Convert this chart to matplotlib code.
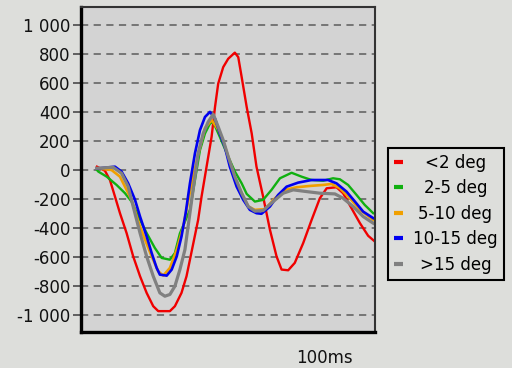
import matplotlib
matplotlib.use("Agg")
import matplotlib.pyplot as plt
from matplotlib.ticker import FuncFormatter

FIG_BG = "#dddedb"
PLOT_BG = "#d3d3d3"

labels = ["<2 deg", "2-5 deg", "5-10 deg", "10-15 deg", ">15 deg"]
colors = ["#f00000", "#10b010", "#f0a000", "#0000f0", "#808080"]

# time (ms) and amplitude for each eccentricity band
t_red = [0, 3.5, 5.7, 7.9, 10.1, 13.0, 15.9, 18.9, 21.8, 24.7, 26.9, 32.0, 34.2,
         37.1, 39.3, 40.8, 44.4, 45.9, 48.1, 50.3, 51.8, 53.2, 55.4, 57.6, 60.5,
         62.0, 63.5, 65.7, 67.9, 70.0, 72.9, 75.9, 78.8, 81.0, 83.9, 86.8, 90.5,
         94.2, 97.8, 100.8, 105.1, 108.0, 111.7, 115.4, 119.0, 121.9]
v_red = [23, -5, -69, -183, -298, -435, -596, -733, -848, -940, -974, -974, -940,
         -848, -733, -619, -344, -183, 23, 229, 435, 596, 710, 768, 810,
         779, 641, 435, 252, 23, -183, -412, -596, -687, -692, -641, -504,
         -344, -195, -126, -119, -160, -264, -367, -454, -493]

t_green = [0, 0.6, 4.3, 8.6, 12.3, 15.2, 18.9, 21.8, 25.4, 28.4, 32.0, 34.2, 36.4,
           40.8, 43.0, 45.2, 47.4, 49.6, 51.0, 53.9, 57.6, 60.5, 63.5, 65.7, 69.3,
           72.9, 76.6, 80.3, 85.4, 89.8, 94.2, 99.3, 103.6, 106.6, 110.2, 113.9,
           117.5, 121.2]
v_green = [0, -11, -46, -103, -160, -218, -344, -435, -538, -607, -619, -573, -437,
           -275, -69, 137, 252, 321, 332, 229, 92, -10, -92, -165, -218,
           -206, -137, -57, -19, -46, -69, -74, -57, -64, -103, -172,
           -241, -298]

t_orange = [0, 6.4, 10.1, 13.0, 15.2, 18.1, 21.1, 24.0, 26.9, 29.1, 32.0, 35.0,
            37.9, 40.8, 44.4, 47.4, 50.3, 53.2, 55.4, 57.6, 60.5, 63.5, 66.4, 69.3,
            73.7, 78.1, 82.5, 87.6, 93.4, 99.3, 102.9, 106.6, 111.0, 115.4, 121.2]
v_orange = [12, 0, -46, -137, -206, -355, -481, -596, -699, -729, -676, -550,
            -390, -150, 110, 290, 344, 280, 200, 92, -46, -160, -252, -275,
            -270, -195, -137, -119, -110, -103, -96, -126, -195, -275, -344]

t_blue = [0, 7.9, 10.8, 13.7, 16.7, 18.9, 21.8, 24.0, 26.2, 27.6, 30.6, 32.8, 35.0,
          37.1, 38.9, 40.8, 43.0, 45.2, 47.4, 49.6, 51.8, 53.9, 56.1, 58.3, 61.3,
          64.2, 67.1, 70.0, 72.2, 75.9, 79.5, 83.2, 88.3, 94.2, 101.4, 105.1,
          109.5, 113.2, 116.8, 121.2]
v_blue = [10, 23, -11, -92, -206, -321, -458, -573, -676, -722, -729, -687, -596,
          -458, -300, -92, 115, 275, 366, 401, 355, 252, 160, 23, -115,
          -206, -275, -298, -302, -252, -172, -115, -87, -69, -69, -92,
          -149, -218, -287, -332]

t_gray = [0, 7.1, 10.8, 13.7, 15.9, 18.9, 21.8, 24.7, 27.6, 29.8, 32.0, 34.2, 36.4,
          38.6, 41.5, 44.4, 46.6, 48.8, 51.0, 53.2, 55.4, 57.6, 60.5, 63.5, 66.4,
          69.3, 72.9, 77.3, 81.7, 86.1, 92.0, 97.8, 104.4, 108.0, 112.4, 116.8,
          121.2]
v_gray = [12, 19, -23, -115, -252, -435, -596, -733, -848, -871, -859, -802, -687,
          -550, -215, 115, 252, 332, 385, 298, 206, 92, -46, -160, -252,
          -284, -280, -218, -160, -137, -149, -160, -165, -195, -252, -321,
          -367]

series = [(t_red, v_red), (t_green, v_green), (t_orange, v_orange),
          (t_blue, v_blue), (t_gray, v_gray)]
widths = [1.7, 1.7, 1.9, 1.9, 2.3]

y_ticks = [1000, 800, 600, 400, 200, 0, -200, -400, -600, -800, -1000]


def fmt_thousands(v, pos):
    return f"{int(v):,}".replace(",", " ")


fig = plt.figure(figsize=(5.12, 3.68), dpi=100, facecolor=FIG_BG)
ax = fig.add_axes([81 / 512, 1 - 332 / 368, 294 / 512, 325 / 368])
ax.set_facecolor(PLOT_BG)

handles = []
for (t, v), c, lw, lab in zip(series, colors, widths, labels):
    h, = ax.plot(t, v, color=c, lw=lw, label=lab, solid_joinstyle="round")
    handles.append(h)

ax.set_xlim(-7, 122)
ax.set_ylim(-1118, 1125)
ax.set_yticks(y_ticks)
ax.yaxis.set_major_formatter(FuncFormatter(fmt_thousands))
ax.set_xticks([100])
ax.set_xticklabels(["100ms"])
ax.tick_params(axis="x", length=0, pad=12, labelsize=12, labelcolor="#111111")
ax.tick_params(axis="y", length=5.5, width=1.3, color="#555555", pad=2,
               labelsize=12, labelcolor="#111111")
ax.grid(axis="y", color="#6e6e6e", linestyle=(0, (4, 3)), linewidth=1.3)
ax.set_axisbelow(True)

for side in ["left", "bottom"]:
    ax.spines[side].set_linewidth(2.4)
    ax.spines[side].set_color("black")
for side in ["top", "right"]:
    ax.spines[side].set_linewidth(1.5)
    ax.spines[side].set_color("#333333")

leg = fig.legend(handles=handles, loc="upper left", bbox_to_anchor=(0.758, 0.598),
                 bbox_transform=fig.transFigure, borderaxespad=0, fontsize=12,
                 handlelength=0.55, handletextpad=0.6, labelspacing=0.45,
                 borderpad=0.35, fancybox=False, framealpha=1, facecolor=FIG_BG,
                 edgecolor="black")
leg.get_frame().set_linewidth(1.5)
for lh in leg.get_lines():
    lh.set_linewidth(3)
    lh.set_solid_capstyle("butt")

# centre the legend labels in their column, like the original
fig.canvas.draw()
renderer = fig.canvas.get_renderer()
texts = leg.get_texts()
ws = [tx.get_window_extent(renderer).width for tx in texts]
wmax = max(ws)
for tx, w in zip(texts, ws):
    tx.set_x((wmax - w) / 2)

fig.savefig("out.png", dpi=100, facecolor=FIG_BG)
